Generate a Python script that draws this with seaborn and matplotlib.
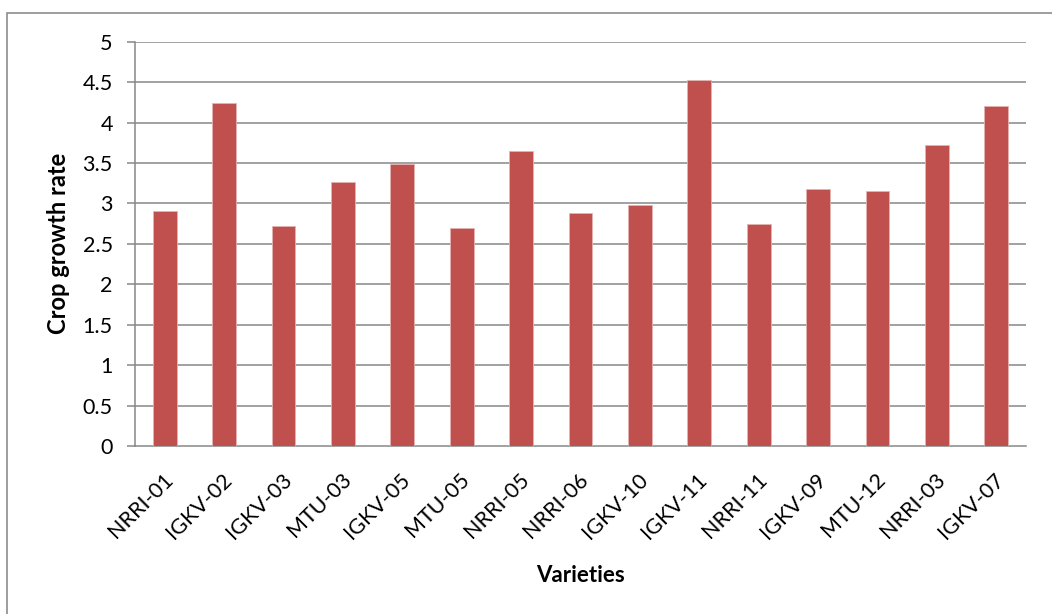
import matplotlib
matplotlib.use("Agg")
import matplotlib.pyplot as plt
from matplotlib.patches import Rectangle
from matplotlib.transforms import ScaledTranslation
import seaborn as sns
import pandas as pd

varieties = ["NRRI-01", "IGKV-02", "IGKV-03", "MTU-03", "IGKV-05", "MTU-05", "NRRI-05",
             "NRRI-06", "IGKV-10", "IGKV-11", "NRRI-11", "IGKV-09", "MTU-12", "NRRI-03", "IGKV-07"]
growth_rate = [2.91, 4.24, 2.72, 3.26, 3.49, 2.70, 3.65,
               2.88, 2.98, 4.53, 2.75, 3.18, 3.15, 3.72, 4.21]
y_ticks = [0, 0.5, 1, 1.5, 2, 2.5, 3, 3.5, 4, 4.5, 5]
y_tick_labels = ["0", "0.5", "1", "1.5", "2", "2.5", "3", "3.5", "4", "4.5", "5"]

df = pd.DataFrame({"Varieties": varieties, "Crop growth rate": growth_rate})

sns.set_theme(style="white")
plt.rcParams["font.family"] = ["Lato", "DejaVu Sans"]

W, H = 1052, 614
fig = plt.figure(figsize=(W / 100, H / 100), dpi=100)
fig.patch.set_facecolor("white")

# outer chart border
fig.patches.append(Rectangle((7 / W, -0.1), 1.2, 1 - 13 / H + 0.1, transform=fig.transFigure,
                             fill=False, edgecolor="#8c8c8c", linewidth=1.2))

left, right, top, bottom = 135 / W, 1026 / W, 41.7 / H, 446 / H
ax = fig.add_axes([left, 1 - bottom, right - left, bottom - top])

grid_color = "#878787"
sns.barplot(data=df, x="Varieties", y="Crop growth rate", ax=ax, color="#C0504D",
            width=0.4, edgecolor="#E3B2B1", linewidth=0.6, saturation=1, zorder=3)

ax.set_ylim(0, 5)
ax.set_xlim(-0.5, len(varieties) - 0.5)
ax.set_yticks(y_ticks)
ax.set_yticklabels(y_tick_labels)
for y in y_ticks[1:]:
    ax.axhline(y, color=grid_color, linewidth=1.1, zorder=1)

for s in ["top", "right"]:
    ax.spines[s].set_visible(False)
for s in ["left", "bottom"]:
    ax.spines[s].set_color(grid_color)
    ax.spines[s].set_linewidth(1.1)

ax.tick_params(axis="y", which="major", direction="out", length=6, width=1.1,
               color=grid_color, pad=10, labelsize=15.5, labelcolor="black", left=True)
ax.tick_params(axis="x", length=0, pad=22, labelsize=15.5, labelcolor="black")
shift = ScaledTranslation(5 / 100, 0, fig.dpi_scale_trans)
for lab in ax.get_xticklabels():
    lab.set_rotation(45)
    lab.set_ha("right")
    lab.set_va("center")
    lab.set_rotation_mode("anchor")
    lab.set_transform(lab.get_transform() + shift)

ax.set_xlabel("Varieties", fontsize=16, fontweight="bold", color="black", labelpad=16)
ax.set_ylabel("Crop growth rate", fontsize=17, fontweight="bold", color="black", labelpad=9)

fig.savefig("out.png", dpi=100, facecolor="white")
